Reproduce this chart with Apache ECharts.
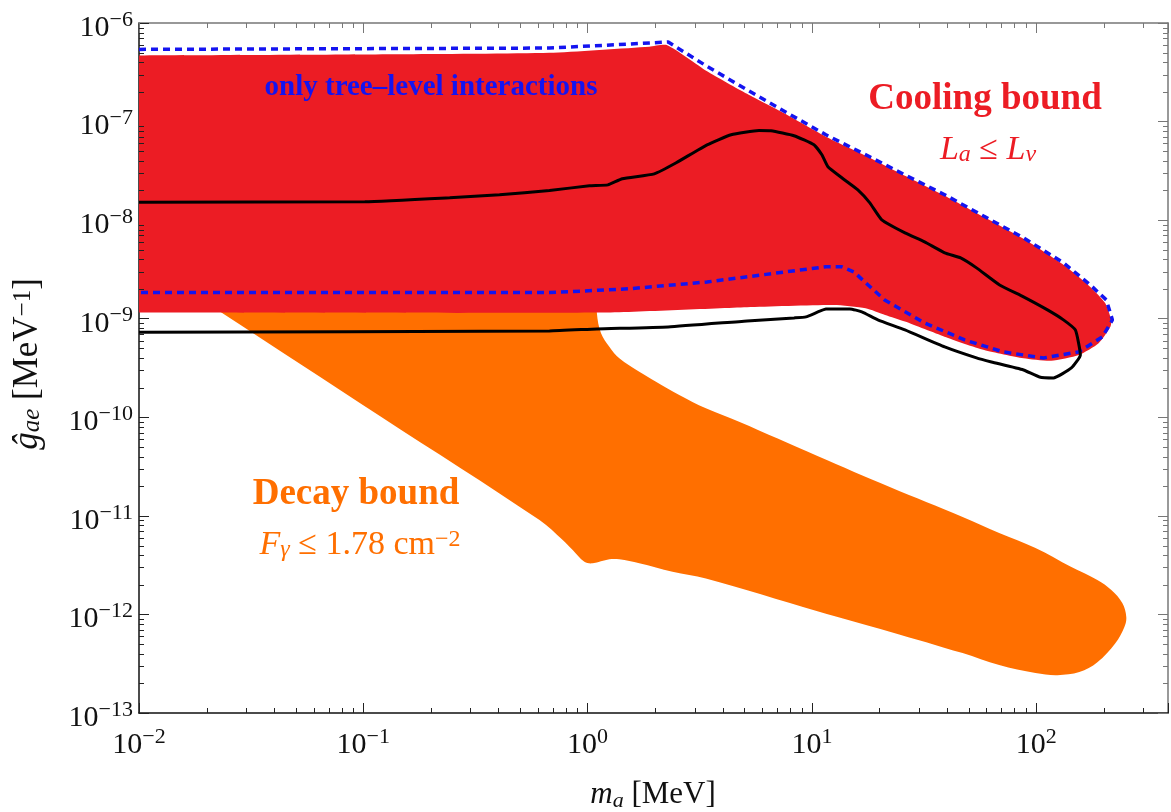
<!DOCTYPE html>
<html lang="en">
<head>
<meta charset="UTF-8">
<title>Cooling and decay bounds</title>
<script src="https://cdn.jsdelivr.net/npm/echarts@6/dist/echarts.min.js"></script>
<style>
    html, body { margin: 0; padding: 0; background: #fff; }
    #main { width: 1171px; height: 812px; }
</style>
</head>
<body>
<div id="main"></div>
<script>
    const SERIF = '"Liberation Serif", "Times New Roman", serif';
    const RED = '#ec1c24';
    const ORANGE = '#ff6f00';
    const BLUE = '#1414f0';

    // axis ranges (m_a in MeV, g_ae in MeV^-1)
    const xMin = 0.01, xMax = 387;
    const yMin = 1e-13, yMax = 1e-6;

    // cooling bound region, L_a <= L_nu  [m_a, g]  (left side runs past the frame and is clipped)
    const coolingBound = [
        [0.006, 4.69e-7], [0.01, 4.69e-7], [0.145, 4.82e-7], [0.676, 4.99e-7], [1.884, 5.75e-7], [2.265, 5.95e-7],
        [3.41, 3.24e-7], [5.14, 1.91e-7], [7.74, 1.17e-7], [11.55, 7.02e-8], [17.4, 4.50e-8],
        [26.0, 2.82e-8], [39.1, 1.77e-8], [58.3, 1.08e-8], [87.8, 6.46e-9], [132.3, 3.52e-9],
        [174.4, 2.10e-9], [203, 1.445e-9], [216, 9.73e-10], [214.5, 8.32e-10], [189.9, 5.64e-10],
        [155.0, 4.29e-10], [116.7, 3.75e-10], [87.8, 3.97e-10], [58.6, 4.82e-10], [39.0, 6.58e-10],
        [26.0, 9.35e-10], [21.2, 1.093e-9], [17.35, 1.278e-9], [12.53, 1.38e-9], [5.14, 1.31e-9],
        [1.10, 1.153e-9], [0.01, 1.153e-9], [0.006, 1.153e-9]
    ];

    // decay bound region, F_gamma <= 1.78 cm^-2 (top edge hidden under the cooling region)
    const decayBound = [
        [0.00869, 4.99e-9], [0.02348, 1.146e-9], [0.1185, 1.033e-10], [0.6104, 9.07e-12], [0.7746, 5.68e-12],
        [0.8584, 4.50e-12], [0.9678, 3.42e-12], [1.054, 3.30e-12], [1.250, 3.62e-12],
        [1.385, 3.62e-12], [1.700, 3.30e-12], [2.391, 2.71e-12], [3.368, 2.32e-12],
        [10.59, 1.080e-12], [22.25, 6.69e-13], [47.0, 4.05e-13], [68.4, 3.06e-13],
        [99.3, 2.54e-13], [124.4, 2.42e-13], [155.8, 2.60e-13], [187.4, 3.28e-13],
        [225.4, 5.11e-13], [247.1, 7.43e-13], [252.2, 9.39e-13], [242.1, 1.303e-12],
        [216.3, 1.765e-12], [187.4, 2.23e-12], [143.5, 3.02e-12], [99.3, 4.71e-12],
        [68.4, 6.69e-12], [47.0, 9.73e-12], [22.25, 1.96e-11], [10.59, 4.05e-11],
        [4.736, 9.02e-11], [3.368, 1.234e-10], [2.562, 1.684e-10], [2.018, 2.30e-10],
        [1.700, 2.90e-10], [1.385, 3.97e-10], [1.250, 5.21e-10], [1.148, 7.12e-10],
        [1.10, 1.146e-9], [1.095, 2.5e-9], [1.095, 4.99e-9]
    ];

    // contour with only tree-level interactions (blue dashed)
    const treeLevelOnly = [
        [0.01, 5.40e-7], [0.676, 5.57e-7], [2.288, 6.41e-7], [3.41, 3.63e-7], [5.14, 2.10e-7],
        [7.74, 1.228e-7], [11.55, 7.35e-8], [17.4, 4.60e-8], [26.0, 2.88e-8], [39.1, 1.81e-8],
        [58.3, 1.10e-8], [87.8, 6.61e-9], [132.3, 3.69e-9], [174.4, 2.20e-9], [205.5, 1.55e-9],
        [218.7, 9.73e-10], [197.2, 6.53e-10], [154.2, 4.60e-10], [107.8, 4.00e-10], [71.5, 4.60e-10],
        [48.0, 6.09e-10], [31.8, 9.06e-10], [21.1, 1.55e-9], [17.4, 2.31e-9], [15.38, 2.99e-9],
        [13.6, 3.36e-9], [11.55, 3.36e-9], [7.66, 2.99e-9], [3.41, 2.36e-9], [1.519, 2.01e-9],
        [0.676, 1.84e-9], [0.01, 1.84e-9]
    ];

    // full contour (black)
    const fullContour = [
        [0.01, 1.523e-8], [0.1016, 1.535e-8], [0.2427, 1.684e-8], [0.405, 1.81e-8], [0.676, 2.00e-8],
        [1.019, 2.23e-8], [1.232, 2.28e-8], [1.428, 2.63e-8], [1.983, 2.95e-8], [2.484, 3.82e-8],
        [3.41, 5.81e-8], [4.364, 7.35e-8], [5.81, 8.12e-8], [6.57, 8.06e-8], [8.32, 7.18e-8],
        [10.21, 5.81e-8], [11.08, 4.60e-8], [11.79, 3.48e-8], [13.6, 2.69e-8], [16.03, 2.03e-8],
        [18.13, 1.498e-8], [20.5, 1.007e-8], [26.0, 7.43e-9], [31.8, 6.02e-9], [39.1, 4.66e-9],
        [46.05, 4.14e-9], [54.2, 3.28e-9], [68.7, 2.20e-9], [87.8, 1.665e-9], [112.3, 1.228e-9],
        [132.3, 9.73e-10], [149.5, 7.69e-10], [157.4, 4.29e-10], [143.5, 3.166e-10], [119.4, 2.51e-10],
        [103.4, 2.566e-10], [87.8, 3.02e-10], [63.2, 3.64e-10], [54.2, 4.00e-10], [39.1, 5.17e-10],
        [26.0, 7.69e-10], [19.68, 9.73e-10], [16.7, 1.172e-9], [14.77, 1.257e-9], [11.55, 1.257e-9],
        [10.64, 1.172e-9], [9.41, 1.043e-9], [8.32, 1.019e-9], [5.14, 9.50e-10], [2.288, 8.26e-10],
        [1.10, 7.88e-10], [0.676, 7.52e-10], [0.01, 7.29e-10]
    ];

    // minor ticks 2..9 x 10^n
    const xMinorTicks = [];
    for (let e = -2; e <= 2; e++) {
        for (let k = 2; k <= 9; k++) {
            if (k * Math.pow(10, e) < xMax) xMinorTicks.push(k * Math.pow(10, e));
        }
    }
    const yMinorTicks = [];
    for (let e = -13; e <= -7; e++) {
        for (let k = 2; k <= 9; k++) yMinorTicks.push(k * Math.pow(10, e));
    }

    function powerLabel(v) {
        const l = Math.log10(v);
        const e = Math.round(l);
        if (Math.abs(l - e) > 0.01) return '';
        return '{b|10}{s|' + (e < 0 ? '\u2212' + (-e) : e) + '}';
    }

    const tickRich = {
        b: { fontFamily: SERIF, fontSize: 30, lineHeight: 34, color: '#111', verticalAlign: 'bottom' },
        s: { fontFamily: SERIF, fontSize: 22, lineHeight: 18, color: '#111', verticalAlign: 'top' }
    };

    function mathRich(color, size) {
        return {
            mi: { fontFamily: SERIF, fontStyle: 'italic', fontSize: size, lineHeight: 34, verticalAlign: 'middle', fill: color },
            rm: { fontFamily: SERIF, fontSize: size, lineHeight: 34, verticalAlign: 'middle', fill: color },
            sub: { fontFamily: SERIF, fontStyle: 'italic', fontSize: Math.round(size * 0.7), lineHeight: 16, verticalAlign: 'bottom', fill: color },
            sup: { fontFamily: SERIF, fontSize: Math.round(size * 0.7), lineHeight: 18, verticalAlign: 'top', fill: color }
        };
    }

    function regionSeries(name, points, color, smooth) {
        return {
            type: 'custom',
            name: name,
            data: points,
            silent: true,
            clip: true,
            renderItem: function (params, api) {
                if (params.dataIndexInside !== 0) return;
                const pts = [];
                for (let i = 0; i < params.dataInsideLength; i++) {
                    pts.push(api.coord([api.value(0, i), api.value(1, i)]));
                }
                return { type: 'polygon', shape: { points: pts, smooth: smooth }, style: { fill: color } };
            }
        };
    }

    function tickLine(x1, y1, x2, y2, color) {
        return { type: 'line', shape: { x1: x1, y1: y1, x2: x2, y2: y2 }, style: { stroke: color, lineWidth: 1 } };
    }

    const chart = echarts.init(document.getElementById('main'));

    const axisCommon = { type: 'log', logBase: 10, splitLine: { show: false } };

    const option = {
        animation: false,
        backgroundColor: '#fff',
        grid: { left: 139, right: 1, top: 23, bottom: 99 },
        xAxis: [
            Object.assign({}, axisCommon, {
                position: 'bottom', min: xMin, max: xMax, splitNumber: 5,
                axisLine: { lineStyle: { color: '#111', width: 1.5 } },
                axisTick: { inside: true, length: 10, lineStyle: { color: '#222', width: 1 } },
                axisLabel: { margin: 13, formatter: powerLabel, rich: tickRich }
            }),
            Object.assign({}, axisCommon, {
                position: 'top', min: xMin, max: xMax, splitNumber: 5,
                axisLine: { lineStyle: { color: '#777', width: 1.5 } },
                axisTick: { inside: true, length: 10, lineStyle: { color: '#777', width: 1 } },
                axisLabel: { show: false }
            })
        ],
        yAxis: [
            Object.assign({}, axisCommon, {
                position: 'left', min: yMin, max: yMax, splitNumber: 7,
                axisLine: { lineStyle: { color: '#111', width: 1.5 } },
                axisTick: { inside: true, length: 10, lineStyle: { color: '#222', width: 1 } },
                axisLabel: { margin: 6, padding: [6, 0, 0, 0], formatter: powerLabel, rich: tickRich }
            }),
            Object.assign({}, axisCommon, {
                position: 'right', min: yMin, max: yMax, splitNumber: 7,
                axisLine: { lineStyle: { color: '#777', width: 1.5 } },
                axisTick: { inside: true, length: 10, lineStyle: { color: '#777', width: 1 } },
                axisLabel: { show: false }
            })
        ],
        series: [
            regionSeries('Decay bound', decayBound, ORANGE, 0.35),
            regionSeries('Cooling bound', coolingBound, RED, 0.2),
            {
                type: 'line', name: 'only tree-level', data: treeLevelOnly,
                showSymbol: false, silent: true,
                lineStyle: { color: BLUE, width: 3.5, type: [7, 5] }
            },
            {
                type: 'line', name: 'full', data: fullContour,
                showSymbol: false, silent: true, smooth: 0.15,
                lineStyle: { color: '#000', width: 3 }
            },
            {
                // minor ticks on all four sides
                type: 'custom', data: [[xMin, yMin]], silent: true, z: 10,
                renderItem: function (params, api) {
                    const cs = params.coordSys;
                    const top = cs.y, bottom = cs.y + cs.height, left = cs.x, right = cs.x + cs.width;
                    const children = [];
                    xMinorTicks.forEach(function (v) {
                        const x = Math.round(api.coord([v, yMin])[0]) + 0.5;
                        children.push(tickLine(x, bottom, x, bottom - 5, '#222'));
                        children.push(tickLine(x, top, x, top + 5, '#777'));
                    });
                    yMinorTicks.forEach(function (v) {
                        const y = Math.round(api.coord([xMin, v])[1]) + 0.5;
                        children.push(tickLine(left, y, left + 5, y, '#222'));
                        children.push(tickLine(right, y, right - 5, y, '#777'));
                    });
                    return { type: 'group', children: children };
                }
            }
        ],
        graphic: [
            {
                type: 'text', x: 431, y: 88, z: 100,
                style: { text: 'only tree\u2013level interactions', font: 'bold 29px ' + SERIF, fill: BLUE, align: 'center', verticalAlign: 'middle' }
            },
            {
                type: 'text', x: 985, y: 99, z: 100,
                style: { text: 'Cooling bound', font: 'bold 37px ' + SERIF, fill: RED, align: 'center', verticalAlign: 'middle' }
            },
            {
                type: 'text', x: 988, y: 150, z: 100,
                style: { text: '{mi|L}{sub|a}{rm| \u2264 }{mi|L}{sub|\u03bd}', rich: mathRich(RED, 34), align: 'center', verticalAlign: 'middle' }
            },
            {
                type: 'text', x: 356, y: 494, z: 100,
                style: { text: 'Decay bound', font: 'bold 37px ' + SERIF, fill: ORANGE, align: 'center', verticalAlign: 'middle' }
            },
            {
                type: 'text', x: 360, y: 545, z: 100,
                style: { text: '{mi|F}{sub|\u03b3}{rm| \u2264 1.78 cm}{sup|\u22122}', rich: mathRich(ORANGE, 34), align: 'center', verticalAlign: 'middle' }
            },
            {
                type: 'text', x: 653, y: 795, z: 100,
                style: { text: '{mi|m}{sub|a}{rm| [MeV]}', rich: mathRich('#111', 31), align: 'center', verticalAlign: 'middle' }
            },
            {
                type: 'text', x: 28, y: 364, rotation: Math.PI / 2, z: 100,
                style: { text: '{mi|\u011d}{sub|ae}{rm| [MeV}{sup|\u22121}{rm|]}', rich: mathRich('#111', 35), align: 'center', verticalAlign: 'middle' }
            }
        ]
    };

    chart.setOption(option);
</script>
</body>
</html>
